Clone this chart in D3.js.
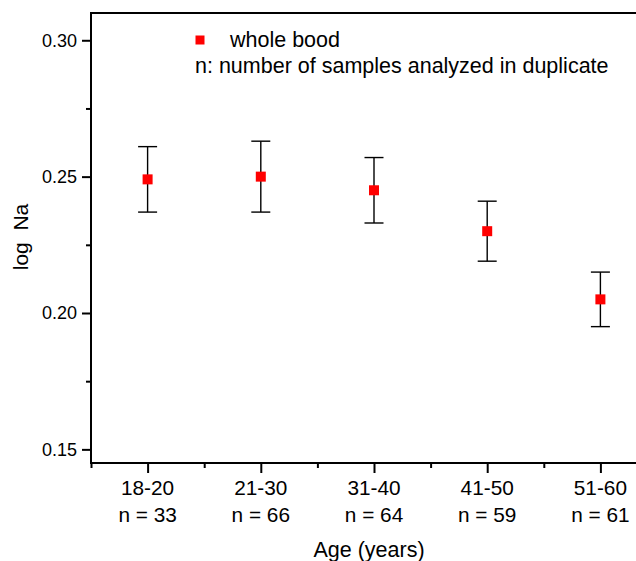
<!DOCTYPE html>
<html>
<head>
<meta charset="utf-8">
<script src="https://cdn.jsdelivr.net/npm/d3@7"></script>
<style>
  body { margin: 0; background: #fff; }
  svg { display: block; font-family: Arial, "Liberation Sans", Helvetica, sans-serif; }
</style>
</head>
<body>
<svg id="chart" width="636" height="561"></svg>
<script>
// ---- data ----
const categories = ["18-20", "21-30", "31-40", "41-50", "51-60"];
const sampleCounts = ["n = 33", "n = 66", "n = 64", "n = 59", "n = 61"];
const means = [0.249, 0.250, 0.245, 0.230, 0.205];
const upper = [0.261, 0.263, 0.257, 0.241, 0.215];
const lower = [0.237, 0.237, 0.233, 0.219, 0.195];
const yTicks = [0.15, 0.20, 0.25, 0.30];
const yMinorTicks = [0.175, 0.225, 0.275];
const legendLabel = "whole bood";
const noteLabel = "n: number of samples analyzed in duplicate";
const xTitle = "Age (years)";
const yTitle = "log  Na";

// ---- layout ----
const svg = d3.select("#chart");
const mLeft = 91, mTop = 13, mBottom = 463, step = 113.2;
const x = d3.scaleLinear().domain([0, categories.length]).range([mLeft, mLeft + step * categories.length]);
const y = d3.scaleLinear().domain([0.145, 0.31]).range([mBottom, mTop]);

// frame: top line
svg.append("line").attr("x1", mLeft).attr("x2", 640).attr("y1", mTop).attr("y2", mTop)
  .attr("stroke", "#000").attr("stroke-width", 2);

// y axis
const yAxis = svg.append("g").attr("transform", `translate(${mLeft},0)`)
  .call(d3.axisLeft(y).tickValues(yTicks).tickFormat(d3.format(".2f")).tickSize(9).tickPadding(5).tickSizeOuter(0));
yAxis.select(".domain").remove();
yAxis.selectAll(".tick line").attr("stroke-width", 2);
yAxis.selectAll(".tick text").attr("font-size", 18).attr("font-family", "Arial, 'Liberation Sans', sans-serif").attr("fill", "#000");
svg.append("g").attr("transform", `translate(${mLeft},0)`)
  .call(d3.axisLeft(y).tickValues(yMinorTicks).tickFormat("").tickSize(5).tickSizeOuter(0))
  .call(g => g.select(".domain").remove())
  .selectAll(".tick line").attr("stroke-width", 2);
svg.append("line").attr("x1", mLeft).attr("x2", mLeft).attr("y1", mTop - 1).attr("y2", mBottom + 1)
  .attr("stroke", "#000").attr("stroke-width", 2);

// x axis
const majors = categories.map((c, i) => i + 0.5);
const minors = d3.range(0, categories.length + 1);
const xAxis = svg.append("g").attr("transform", `translate(0,${mBottom})`)
  .call(d3.axisBottom(x).tickValues(majors).tickFormat("").tickSize(10).tickSizeOuter(0));
xAxis.select(".domain").remove();
xAxis.selectAll(".tick line").attr("stroke-width", 2);
svg.append("g").attr("transform", `translate(0,${mBottom})`)
  .call(d3.axisBottom(x).tickValues(minors).tickFormat("").tickSize(5).tickSizeOuter(0))
  .call(g => g.select(".domain").remove())
  .selectAll(".tick line").attr("stroke-width", 2);
svg.append("line").attr("x1", mLeft - 1).attr("x2", 640).attr("y1", mBottom).attr("y2", mBottom)
  .attr("stroke", "#000").attr("stroke-width", 2);

// x labels (two lines)
const xl = svg.append("g").attr("font-size", 20.8).attr("fill", "#000").attr("text-anchor", "middle");
categories.forEach((c, i) => {
  xl.append("text").attr("x", x(i + 0.5)).attr("y", mBottom + 32).text(c);
  xl.append("text").attr("x", x(i + 0.5)).attr("y", mBottom + 59).text(sampleCounts[i]);
});

// axis titles
svg.append("text").attr("x", 369).attr("y", 557).attr("text-anchor", "middle")
  .attr("font-size", 21.5).attr("fill", "#000").text(xTitle);
svg.append("text").attr("transform", "translate(28,237) rotate(-90)").attr("text-anchor", "middle")
  .attr("font-size", 21).attr("fill", "#000").style("white-space", "pre").text(yTitle);

// error bars
const eb = svg.append("g").attr("stroke", "#000").attr("stroke-width", 1.4);
categories.forEach((c, i) => {
  const cx = x(i + 0.5);
  eb.append("line").attr("x1", cx).attr("x2", cx).attr("y1", y(upper[i])).attr("y2", y(lower[i]));
  eb.append("line").attr("x1", cx - 9.5).attr("x2", cx + 9.5).attr("y1", y(upper[i])).attr("y2", y(upper[i]));
  eb.append("line").attr("x1", cx - 9.5).attr("x2", cx + 9.5).attr("y1", y(lower[i])).attr("y2", y(lower[i]));
});

// markers
svg.append("g").selectAll("rect").data(means).join("rect")
  .attr("x", (d, i) => x(i + 0.5) - 5).attr("y", d => y(d) - 5)
  .attr("width", 10).attr("height", 10).attr("fill", "#ff0000");

// legend
svg.append("rect").attr("x", 195.5).attr("y", 35.5).attr("width", 9).attr("height", 9).attr("fill", "#ff0000");
svg.append("text").attr("x", 230).attr("y", 47).attr("font-size", 21.5).attr("fill", "#000").text(legendLabel);
svg.append("text").attr("x", 195).attr("y", 73).attr("font-size", 21.5).attr("fill", "#000").text(noteLabel);
</script>
</body>
</html>
